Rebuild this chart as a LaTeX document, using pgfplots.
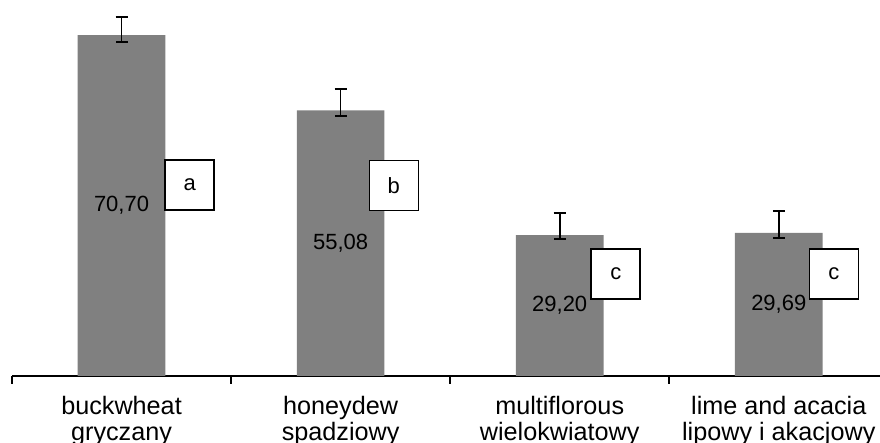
\documentclass[border=0pt]{standalone}
\usepackage{pgfplots}
\pgfplotsset{compat=1.18}
\usepackage{pgfplotstable}
\usepackage{fontspec}
\setmainfont{Liberation Sans}
\pgfplotstableread{
x y ep em
0 70.70 3.8 1.4
1 55.08 4.4 1.1
2 29.20 4.55 0.84
3 29.69 4.5 1.0
}\bars
\pgfplotstableread{
x y lab
0 70.70 {70,70}
1 55.08 {55,08}
2 29.20 {29,20}
3 29.69 {29,69}
}\vals
\pgfplotstableread{
x y lab
0.311 39.6 a
1.243 39.5 b
2.256 21.2 c
3.252 21.2 c
}\letters
\definecolor{bargray}{RGB}{128,128,128}
\begin{document}
\begin{tikzpicture}
\useasboundingbox (0,0) rectangle (440pt,221.5pt);
\begin{axis}[
  at={(6pt,33.5pt)}, anchor=south west,
  scale only axis, width=434pt, height=188pt,
  xmin=-0.5, xmax=3.462, ymin=0, ymax=78,
  axis x line*=bottom, axis y line=none,
  axis line style={line width=1pt, black, -},
  xtick={0,1,2,3},
  xticklabels={{buckwheat\\gryczany},{honeydew\\spadziowy},{multiflorous\\wielokwiatowy},{lime and acacia\\lipowy i akacjowy}},
  minor xtick={-0.5,0.5,1.5,2.5},
  major tick length=0pt, minor tick length=4pt,
  tick align=outside,
  minor tick style={line width=1pt, black},
  xticklabel style={align=center, font=\fontsize{12.6}{13}\selectfont, yshift=-6.5pt},
  clip=false,
]
\addplot[ybar, bar width=43.8pt, fill=bargray, draw=none,
  error bars/.cd, y dir=both, y explicit,
  error bar style={line width=0.85pt, black},
  error mark options={line width=0.85pt, black, mark size=3pt, rotate=90}]
  table[x=x, y=y, y error plus=ep, y error minus=em] {\bars};
\addplot[draw=none, mark=none, nodes near coords, point meta=explicit symbolic,
  every node near coord/.style={anchor=center, font=\fontsize{11}{12}\selectfont, black}]
  table[x=x, y expr=\thisrow{y}/2, meta=lab] {\vals};
\addplot[draw=none, mark=none, nodes near coords, point meta=explicit symbolic,
  every node near coord/.style={anchor=center, draw=black, fill=white, line width=0.85pt,
    minimum width=24.5pt, minimum height=25pt, inner sep=0pt, font=\fontsize{11}{12}\selectfont}]
  table[x=x, y=y, meta=lab] {\letters};
\end{axis}
\end{tikzpicture}
\end{document}
